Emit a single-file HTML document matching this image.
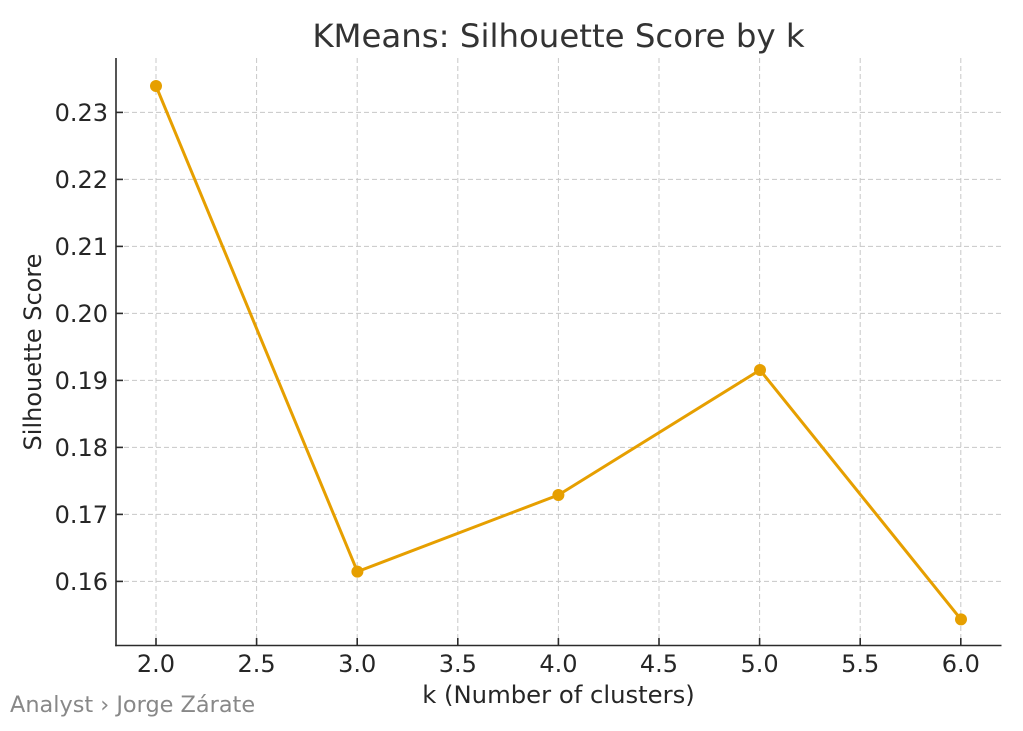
<!DOCTYPE html>
<html><head><meta charset="utf-8"><style>
html,body{margin:0;padding:0;background:#fff;}
svg{display:block;}
text{font-family:"DejaVu Sans","Liberation Sans",sans-serif;}
</style></head><body>
<svg width="1023" height="731" viewBox="0 0 1023 731" xmlns="http://www.w3.org/2000/svg">
<rect width="1023" height="731" fill="#fff"/>
<g stroke="#c8c8c8" stroke-width="1" stroke-dasharray="5,3" fill="none">
<line x1="156" y1="58" x2="156" y2="645"/>
<line x1="256.6" y1="58" x2="256.6" y2="645"/>
<line x1="357.2" y1="58" x2="357.2" y2="645"/>
<line x1="457.8" y1="58" x2="457.8" y2="645"/>
<line x1="558.4" y1="58" x2="558.4" y2="645"/>
<line x1="659" y1="58" x2="659" y2="645"/>
<line x1="759.6" y1="58" x2="759.6" y2="645"/>
<line x1="860.2" y1="58" x2="860.2" y2="645"/>
<line x1="960.8" y1="58" x2="960.8" y2="645"/>
<line x1="116" y1="581.4" x2="1001" y2="581.4"/>
<line x1="116" y1="514.4" x2="1001" y2="514.4"/>
<line x1="116" y1="447.4" x2="1001" y2="447.4"/>
<line x1="116" y1="380.4" x2="1001" y2="380.4"/>
<line x1="116" y1="313.4" x2="1001" y2="313.4"/>
<line x1="116" y1="246.4" x2="1001" y2="246.4"/>
<line x1="116" y1="179.4" x2="1001" y2="179.4"/>
<line x1="116" y1="112.4" x2="1001" y2="112.4"/>
</g>
<polyline points="156,86 357.4,571.6 558.4,495 760,370 961,619.4" fill="none" stroke="#E69F00" stroke-width="3" stroke-linejoin="round"/>
<g fill="#E69F00">
<circle cx="156" cy="86" r="6"/>
<circle cx="357.4" cy="571.6" r="6"/>
<circle cx="558.4" cy="495" r="6"/>
<circle cx="760" cy="370" r="6"/>
<circle cx="961" cy="619.4" r="6"/>
</g>
<g stroke="#2b2b2b" stroke-width="1.6" fill="none">
<line x1="116" y1="58" x2="116" y2="646.3"/>
<line x1="115.2" y1="645.5" x2="1001.5" y2="645.5"/>
<line x1="116" y1="581.4" x2="123" y2="581.4"/>
<line x1="116" y1="514.4" x2="123" y2="514.4"/>
<line x1="116" y1="447.4" x2="123" y2="447.4"/>
<line x1="116" y1="380.4" x2="123" y2="380.4"/>
<line x1="116" y1="313.4" x2="123" y2="313.4"/>
<line x1="116" y1="246.4" x2="123" y2="246.4"/>
<line x1="116" y1="179.4" x2="123" y2="179.4"/>
<line x1="116" y1="112.4" x2="123" y2="112.4"/>
<line x1="156" y1="638" x2="156" y2="645"/>
<line x1="256.6" y1="638" x2="256.6" y2="645"/>
<line x1="357.2" y1="638" x2="357.2" y2="645"/>
<line x1="457.8" y1="638" x2="457.8" y2="645"/>
<line x1="558.4" y1="638" x2="558.4" y2="645"/>
<line x1="659" y1="638" x2="659" y2="645"/>
<line x1="759.6" y1="638" x2="759.6" y2="645"/>
<line x1="860.2" y1="638" x2="860.2" y2="645"/>
<line x1="960.8" y1="638" x2="960.8" y2="645"/>
</g>
<g fill="#262626" font-size="24" text-anchor="end">
<text x="108" y="590">0.16</text>
<text x="108" y="523">0.17</text>
<text x="108" y="456">0.18</text>
<text x="108" y="389">0.19</text>
<text x="108" y="322">0.20</text>
<text x="108" y="255">0.21</text>
<text x="108" y="188">0.22</text>
<text x="108" y="121">0.23</text>
</g>
<g fill="#262626" font-size="24" text-anchor="middle">
<text x="156" y="672">2.0</text>
<text x="256.6" y="672">2.5</text>
<text x="357.2" y="672">3.0</text>
<text x="457.8" y="672">3.5</text>
<text x="558.4" y="672">4.0</text>
<text x="659" y="672">4.5</text>
<text x="759.6" y="672">5.0</text>
<text x="860.2" y="672">5.5</text>
<text x="960.8" y="672">6.0</text>
</g>
<text x="558.5" y="703" font-size="24.3" fill="#262626" text-anchor="middle">k (Number of clusters)</text>
<text transform="translate(41,352) rotate(-90)" font-size="24" fill="#262626" text-anchor="middle">Silhouette Score</text>
<text x="558.5" y="47" font-size="32.4" fill="#333333" text-anchor="middle">KMeans: Silhouette Score by k</text>
<text x="10" y="712" font-size="22.4" fill="#888888">Analyst › Jorge Zárate</text>
</svg>
</body></html>
